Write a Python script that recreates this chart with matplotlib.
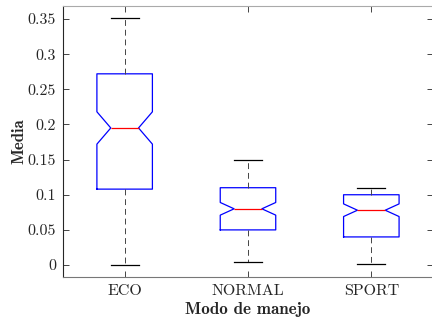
import numpy as np
import matplotlib
matplotlib.use("Agg")
import matplotlib.pyplot as plt
from matplotlib.ticker import FormatStrFormatter

# valores
modos = ["ECO", "NORMAL", "SPORT"]
med = [0.195, 0.080, 0.078]
q1 = [0.108, 0.050, 0.040]
q3 = [0.272, 0.110, 0.100]
wlo = [0.000, 0.005, 0.002]
whi = [0.352, 0.150, 0.110]
cilo = [0.172, 0.071, 0.069]
cihi = [0.218, 0.089, 0.087]

stats = []
for i in range(len(modos)):
    stats.append(dict(label=modos[i], med=med[i], q1=q1[i], q3=q3[i],
                      whislo=wlo[i], whishi=whi[i], cilo=cilo[i], cihi=cihi[i],
                      fliers=[]))

plt.rcParams['font.family'] = 'cmr10'
plt.rcParams['axes.formatter.use_mathtext'] = True

fig = plt.figure(figsize=(4.32, 3.27), dpi=100)
ax = fig.add_axes([0.1458, 0.1529, 0.8565, 0.8288])

ax.bxp(stats, positions=[1, 2, 3], widths=0.45, shownotches=True,
       showfliers=False,
       boxprops=dict(color="blue", linewidth=0.9),
       medianprops=dict(color="red", linewidth=0.9),
       whiskerprops=dict(color="#444444", linewidth=0.7, linestyle=(0, (6, 4))),
       capprops=dict(color="black", linewidth=0.9))

ax.set_xlim(0.5, 3.5)
ax.set_ylim(-0.017, 0.3685)
ax.set_yticks(np.arange(0, 0.36, 0.05))
ax.yaxis.set_major_formatter(FormatStrFormatter('%g'))
ax.set_xticks([1, 2, 3])
ax.set_xticklabels(modos)

ax.tick_params(direction='in', length=4, width=0.6, colors='#262626',
               labelsize=11.5, top=True, right=True, pad=5)
ax.spines['left'].set_color('#262626')
ax.spines['bottom'].set_color('#777777')
ax.spines['top'].set_color('#aaaaaa')
ax.spines['right'].set_visible(False)
for s in ax.spines.values():
    s.set_linewidth(0.8)

ax.set_ylabel("Media", fontfamily='cmb10', fontsize=12, color='#262626', labelpad=1)
ax.set_xlabel("Modo de manejo", fontfamily='cmb10', fontsize=12.3, color='#262626', labelpad=3)

fig.savefig("out.png", dpi=100)
